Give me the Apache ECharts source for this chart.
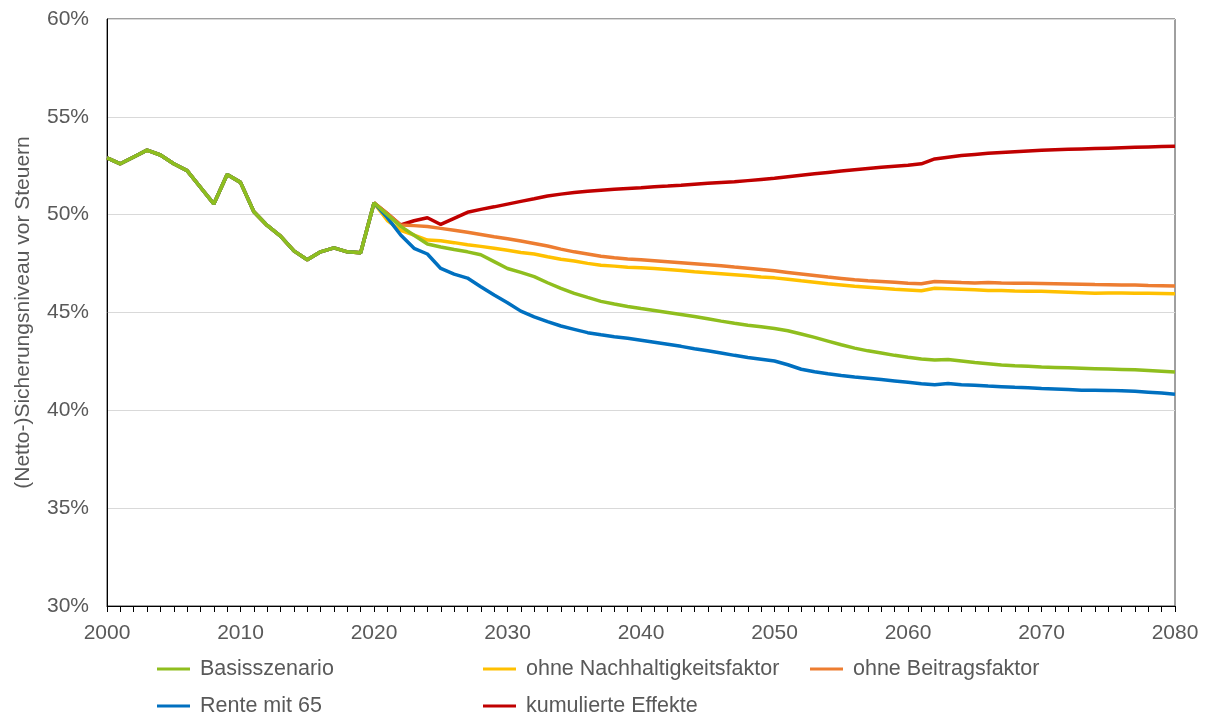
<!DOCTYPE html>
<html>
<head>
<meta charset="utf-8">
<script src="https://cdn.jsdelivr.net/npm/echarts@6/dist/echarts.min.js"></script>
<style>
html,body{margin:0;padding:0;background:#fff;}
#chart{width:1209px;height:717px;}
</style>
</head>
<body>
<div id="chart"></div>
<script>
// ---- data ----
var years = [];
for (var y = 2000; y <= 2080; y++) years.push(y);

var histValues = [52.9, 52.6, 52.95, 53.3, 53.05, 52.6, 52.25, 51.4, 50.55, 52.05, 51.65, 50.15, 49.45, 48.9, 48.15, 47.7, 48.1, 48.3, 48.1, 48.05, 50.6];

var basisProj = [50.0, 49.4, 48.95, 48.5, 48.35, 48.22, 48.1, 47.95, 47.6, 47.25,
  47.05, 46.83, 46.52, 46.23, 45.98, 45.77, 45.57, 45.43, 45.31, 45.2,
  45.1, 45.0, 44.9, 44.8, 44.68, 44.56, 44.45, 44.35, 44.27, 44.18,
  44.07, 43.9, 43.73, 43.54, 43.35, 43.18, 43.04, 42.93, 42.81, 42.71,
  42.62, 42.57, 42.6, 42.52, 42.44, 42.38, 42.32, 42.28, 42.25, 42.21,
  42.19, 42.17, 42.15, 42.13, 42.11, 42.09, 42.07, 42.04, 42.0, 41.96];

var nachhaltigProj = [49.7, 49.2, 48.96, 48.7, 48.67, 48.57, 48.46, 48.38, 48.28, 48.18,
  48.07, 47.99, 47.85, 47.72, 47.63, 47.51, 47.42, 47.37, 47.31, 47.29,
  47.25, 47.2, 47.15, 47.08, 47.03, 46.98, 46.93, 46.88, 46.82, 46.77,
  46.7, 46.62, 46.55, 46.47, 46.41, 46.34, 46.29, 46.24, 46.19, 46.15,
  46.11, 46.24, 46.22, 46.19, 46.16, 46.13, 46.12, 46.1, 46.09, 46.08,
  46.06, 46.04, 46.01, 45.98, 46.0, 46.0, 45.99, 45.98, 45.97, 45.96];

var beitragProj = [50.05, 49.47, 49.44, 49.39, 49.3, 49.2, 49.1, 48.99, 48.87, 48.77,
  48.65, 48.53, 48.4, 48.24, 48.1, 47.99, 47.88, 47.8, 47.74, 47.69,
  47.64, 47.59, 47.54, 47.49, 47.44, 47.39, 47.32, 47.26, 47.2, 47.13,
  47.05, 46.97, 46.89, 46.81, 46.74, 46.67, 46.62, 46.58, 46.54, 46.5,
  46.47, 46.58, 46.56, 46.53, 46.51, 46.53, 46.51, 46.5, 46.49, 46.48,
  46.47, 46.46, 46.45, 46.43, 46.42, 46.41, 46.4, 46.38, 46.37, 46.35];

var rente65Proj = [49.85, 48.96, 48.28, 47.99, 47.25, 46.96, 46.76, 46.32, 45.89, 45.5,
  45.07, 44.78, 44.53, 44.31, 44.14, 43.97, 43.86, 43.76, 43.68, 43.58,
  43.48, 43.38, 43.27, 43.15, 43.04, 42.93, 42.81, 42.7, 42.61, 42.52,
  42.33, 42.1, 41.97, 41.87, 41.78, 41.7, 41.64, 41.57, 41.5, 41.43,
  41.36, 41.31, 41.37, 41.31, 41.28, 41.24, 41.21, 41.18, 41.16, 41.12,
  41.09, 41.06, 41.03, 41.03, 41.02, 41.0, 40.97, 40.93, 40.88, 40.82];

var kumuliertProj = [50.05, 49.47, 49.69, 49.84, 49.5, 49.81, 50.12, 50.27, 50.4, 50.54,
  50.68, 50.81, 50.95, 51.05, 51.13, 51.2, 51.25, 51.3, 51.34, 51.38,
  51.43, 51.46, 51.5, 51.55, 51.6, 51.65, 51.68, 51.74, 51.8, 51.86,
  51.94, 52.02, 52.09, 52.16, 52.23, 52.3, 52.36, 52.42, 52.47, 52.52,
  52.6, 52.85, 52.94, 53.02, 53.08, 53.14, 53.18, 53.22, 53.26, 53.29,
  53.32, 53.34, 53.36, 53.38, 53.4, 53.42, 53.44, 53.46, 53.48, 53.5];

var seriesNames = ['Basisszenario', 'ohne Nachhaltigkeitsfaktor', 'ohne Beitragsfaktor', 'Rente mit 65', 'kumulierte Effekte'];
var yTickLabels = ['30%', '35%', '40%', '45%', '50%', '55%', '60%'];
var axisTitle = '(Netto-)Sicherungsniveau vor Steuern';

// ---- build ----
function pairs(proj) {
  var vals = histValues.concat(proj);
  return years.map(function (yr, i) { return [yr, vals[i]]; });
}

var colors = {
  'Basisszenario': '#8fbe1e',
  'ohne Nachhaltigkeitsfaktor': '#ffc000',
  'ohne Beitragsfaktor': '#ed7d31',
  'Rente mit 65': '#0070c0',
  'kumulierte Effekte': '#c00000'
};
var dataMap = {
  'Basisszenario': basisProj,
  'ohne Nachhaltigkeitsfaktor': nachhaltigProj,
  'ohne Beitragsfaktor': beitragProj,
  'Rente mit 65': rente65Proj,
  'kumulierte Effekte': kumuliertProj
};
// draw order: green on top
var drawOrder = ['kumulierte Effekte', 'ohne Beitragsfaktor', 'ohne Nachhaltigkeitsfaktor', 'Rente mit 65', 'Basisszenario'];

var FONT = '"Liberation Sans", Arial, sans-serif';
var TXT = '#595959';
var FS = 21;
var LFS = 21.5;

var series = drawOrder.map(function (n) {
  return {
    name: n, type: 'line', data: pairs(dataMap[n]),
    symbol: 'none', smooth: false,
    lineStyle: { color: colors[n], width: 3.5 },
    itemStyle: { color: colors[n] },
    emphasis: { disabled: true }, animation: false
  };
});

var legendPos = [
  { name: 'Basisszenario', left: 157, top: 658 },
  { name: 'ohne Nachhaltigkeitsfaktor', left: 483, top: 658 },
  { name: 'ohne Beitragsfaktor', left: 810, top: 658 },
  { name: 'Rente mit 65', left: 157, top: 695 },
  { name: 'kumulierte Effekte', left: 483, top: 695 }
];
var legends = legendPos.map(function (p) {
  return {
    data: [{ name: p.name, icon: 'rect' }],
    left: p.left, top: p.top, padding: 0,
    itemWidth: 33, itemHeight: 3, itemGap: 0,
    selectedMode: false,
    textStyle: { fontSize: LFS, color: TXT, fontFamily: FONT, padding: [0, 0, 0, 5] }
  };
});

var chart = echarts.init(document.getElementById('chart'), null, { renderer: 'canvas' });
chart.setOption({
  animation: false,
  backgroundColor: '#ffffff',
  grid: { left: 107, right: 34, top: 19, bottom: 111, show: true, borderColor: '#404040', borderWidth: 1, containLabel: false },
  legend: legends,
  xAxis: {
    type: 'value', min: 2000, max: 2080, interval: 10,
    axisLine: { show: true, lineStyle: { color: '#000', width: 1 } },
    axisTick: { show: true, inside: false, length: 6, lineStyle: { color: '#000' } },
    minorTick: { show: true, splitNumber: 10, length: 6, lineStyle: { color: '#000' } },
    splitLine: { show: false },
    axisLabel: { color: TXT, fontSize: FS, fontFamily: FONT, margin: 17, formatter: function (v) { return String(v); } }
  },
  yAxis: {
    type: 'value', min: 30, max: 60, interval: 5,
    axisLine: { show: true, lineStyle: { color: '#000', width: 1 } },
    axisTick: { show: false },
    splitLine: { show: true, lineStyle: { color: '#d9d9d9', width: 1 } },
    axisLabel: { color: TXT, fontSize: FS, fontFamily: FONT, margin: 18,
      formatter: function (v) { return yTickLabels[Math.round((v - 30) / 5)]; } },
    name: axisTitle, nameLocation: 'middle', nameGap: 73, nameRotate: 90,
    nameTextStyle: { color: TXT, fontSize: FS, fontFamily: FONT }
  },
  series: series
});
</script>
</body>
</html>
